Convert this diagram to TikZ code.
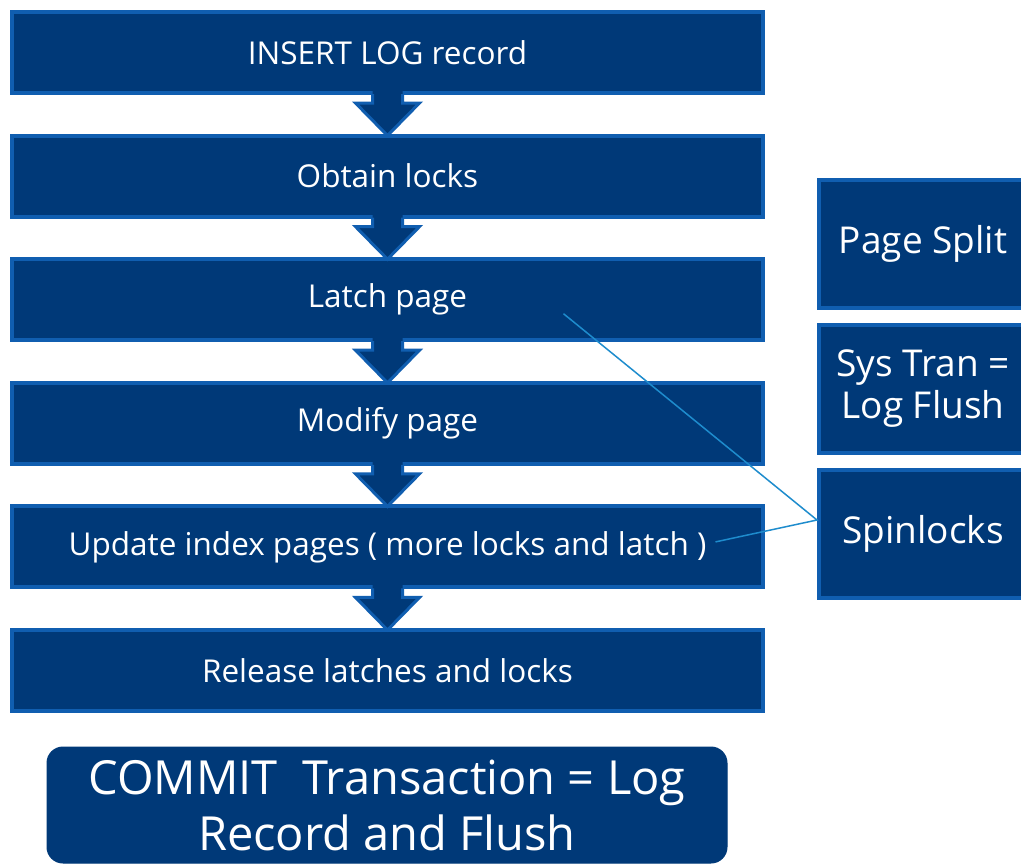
\documentclass[tikz,border=0pt]{standalone}
\usepackage{fontspec}
\setmainfont{Open Sans}
\usepackage{tikz}
\usetikzlibrary{positioning}
\usetikzlibrary{calc}
\definecolor{boxnavy}{RGB}{0,57,120}
\definecolor{boxrim}{RGB}{16,94,176}
\definecolor{linkblue}{RGB}{30,140,205}
\tikzset{
  step node/.style={rectangle,draw=boxrim,fill=boxnavy,line width=4pt,minimum width=751pt,minimum height=81pt,inner sep=0pt,text=white,font=\fontsize{31.5}{37}\selectfont},
  side node/.style={rectangle,draw=boxrim,fill=boxnavy,line width=4pt,minimum width=208pt,minimum height=128pt,inner sep=0pt,align=center,text=white,font=\fontsize{37}{42}\selectfont},
  commit node/.style={rectangle,rounded corners=16pt,draw=boxnavy,fill=boxnavy,line width=1pt,minimum width=680pt,minimum height=116pt,align=center,text=white,font=\fontsize{47}{56}\selectfont},
  link/.style={draw=linkblue,line width=1.5pt}
}
\begin{document}
\begin{tikzpicture}[x=1pt,y=-1pt]
  \clip (0,0) rectangle (1021,863);
  % steps of the insert
  \node [step node] (insert) at (387.5,52.5) {INSERT LOG record};
  \node [step node,below=38.6pt of insert] (locks) {Obtain locks};
  \node [step node,below=38.6pt of locks] (latch) {Latch page};
  \node [step node,below=38.6pt of latch] (modify) {Modify page};
  \node [step node,below=38.6pt of modify] (update) {Update index pages ( more locks and latch )};
  \node [step node,below=38.6pt of update] (release) {Release latches and locks};
  % block arrows between the steps
  \foreach \a/\b in {insert/locks,locks/latch,latch/modify,modify/update,update/release}{
    \fill [boxnavy] ($(\a.south)+(-15,-6)$) -- ($(\a.south)+(-15,8)$) -- ($(\a.south)+(-32,8)$)
      -- ($(\b.north)+(0,2)$) -- ($(\a.south)+(32,8)$) -- ($(\a.south)+(15,8)$) -- ($(\a.south)+(15,-6)$) -- cycle;
    \draw [boxrim,line width=3pt,line join=miter] ($(\a.south)+(-15,-1)$) -- ($(\a.south)+(-15,8)$)
      -- ($(\a.south)+(-32,8)$) -- ($(\b.north)+(0,2)$) -- ($(\a.south)+(32,8)$) -- ($(\a.south)+(15,8)$)
      -- ($(\a.south)+(15,-1)$);
  }
  % side boxes
  \node [side node] (split) at (923,244) {Page Split};
  \node [side node,below=13pt of split] (systran) {Sys Tran =\\Log Flush};
  \node [side node,below=13pt of systran] (spin) {Spinlocks};
  \node [commit node] (commit) at (387,805) {COMMIT\ \ Transaction = Log\\Record and Flush};
  % links to spinlocks
  \coordinate (latchpt) at ($(latch.center)+(176,14)$);
  \coordinate (updatept) at ($(update.center)+(328,-5)$);
  \coordinate (spinpt) at ($(spin.west)+(0,-14)$);
  \draw [link] (latchpt) -- (spinpt) -- (updatept);
\end{tikzpicture}
\end{document}
